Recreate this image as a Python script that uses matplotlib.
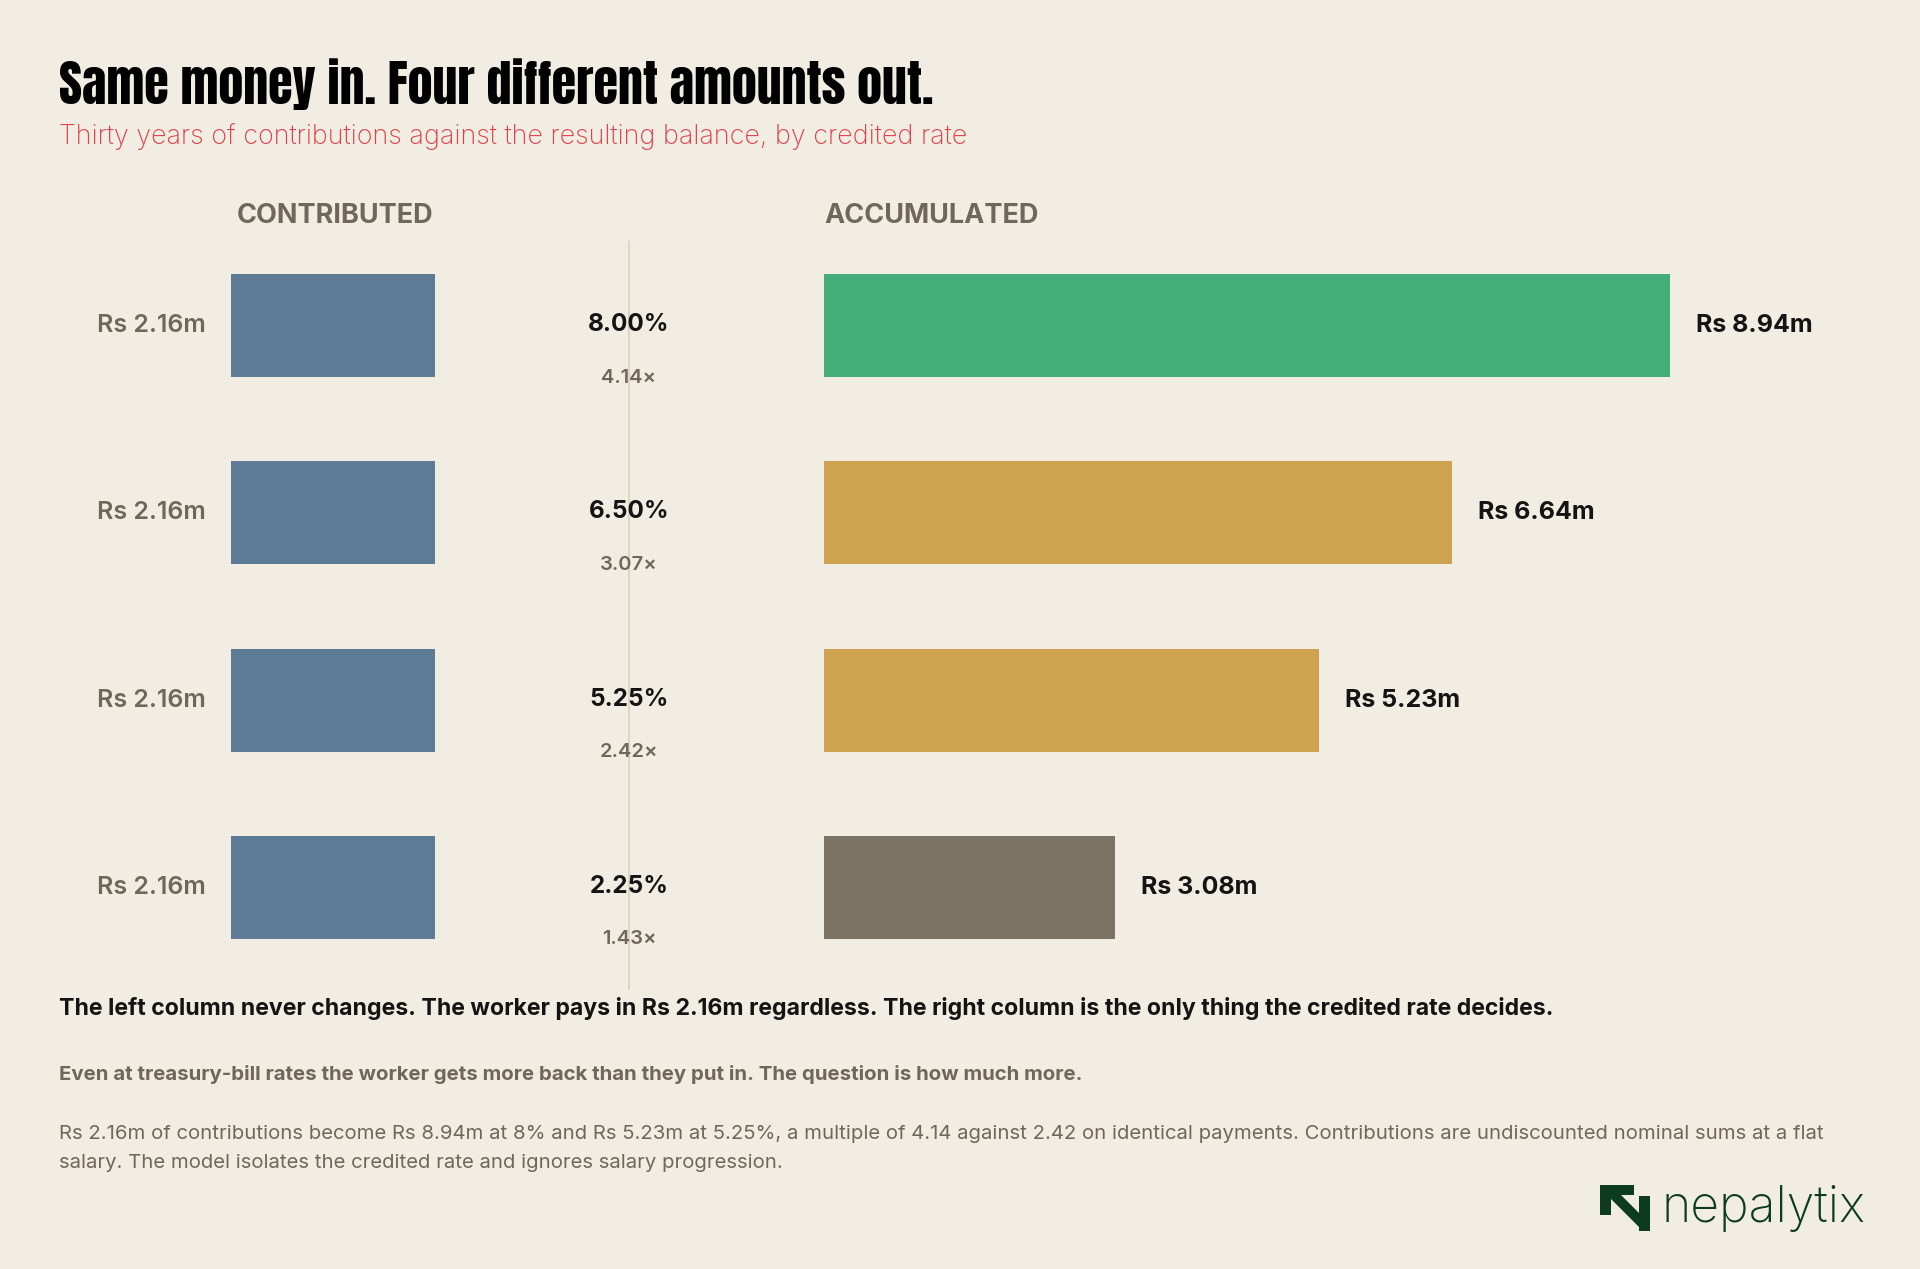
import matplotlib
matplotlib.use("Agg")
import matplotlib.pyplot as plt
from matplotlib.transforms import blended_transform_factory
from matplotlib.lines import Line2D
from matplotlib.patches import Polygon

# data
rates = ["8.00%", "6.50%", "5.25%", "2.25%"]
contributed = [2.16, 2.16, 2.16, 2.16]
accumulated = [8.94, 6.64, 5.23, 3.08]
multiples = ["4.14×", "3.07×", "2.42×", "1.43×"]
acc_colors = ["#43ae78", "#cda34f", "#cda34f", "#7b7264"]

BG = "#f2ede2"
GREY = "#6f675a"
INK = "#141414"
BLUE = "#5e7b96"

W, H = 1920, 1269
fig = plt.figure(figsize=(W / 100, H / 100), dpi=100, facecolor=BG)
plt.rcParams['font.family'] = ['Inter', 'DejaVu Sans']

def fx(px):
    return px / W

def fy(py):
    return 1 - py / H

scale = 94.6          # pixels per Rs million
top, bottom = 232, 981
ypos = list(range(len(rates)))

# left axes: contributions
axl = fig.add_axes([fx(231), fy(bottom), 3 * scale / W, (bottom - top) / H])
# right axes: accumulated balance
axr = fig.add_axes([fx(824), fy(bottom), 11 * scale / W, (bottom - top) / H])
for ax, xmax in ((axl, 3), (axr, 11)):
    ax.set_xlim(0, xmax)
    ax.set_ylim(3.5, -0.5)
    ax.axis("off")
    ax.patch.set_alpha(0)

axl.barh(ypos, contributed, height=0.55, color=BLUE)
axr.barh(ypos, accumulated, height=0.55, color=acc_colors)

for y, v in zip(ypos, contributed):
    axl.annotate(f"Rs {v:.2f}m", (0, y), xytext=(-25, 0), textcoords="offset pixels",
                 ha="right", va="center", fontsize=18, color=GREY, fontweight="semibold")
for y, v in zip(ypos, accumulated):
    axr.annotate(f"Rs {v:.2f}m", (v, y), xytext=(26, 0), textcoords="offset pixels",
                 ha="left", va="center", fontsize=18, color=INK, fontweight="bold")

# rate labels in the middle column
tr = blended_transform_factory(fig.transFigure, axl.transData)
for y, r, m in zip(ypos, rates, multiples):
    axl.annotate(r, (fx(629), y), xycoords=tr, xytext=(0, 1), textcoords="offset pixels",
                 ha="center", va="center", fontsize=17.5, color=INK, fontweight="bold")
    axl.annotate(m, (fx(629), y), xycoords=tr, xytext=(0, -52), textcoords="offset pixels",
                 ha="center", va="center", fontsize=14.5, color=GREY, fontweight="semibold")

fig.add_artist(Line2D([fx(629), fx(629)], [fy(242), fy(989)], color="#dcd6c3", lw=1.5, zorder=0))

# headers
fig.text(fx(335), fy(216), "CONTRIBUTED", ha="center", va="center", fontsize=19.5,
         color=GREY, fontweight="bold")
fig.text(fx(824), fy(216), "ACCUMULATED", ha="left", va="center", fontsize=19.5,
         color=GREY, fontweight="bold")

# title block
fig.text(fx(59), fy(104), "Same money in. Four different amounts out.", ha="left",
         va="baseline", fontsize=36, color="#000000",
         family=["Anton", "DejaVu Sans"])
fig.text(fx(59), fy(137), "Thirty years of contributions against the resulting balance, by credited rate",
         ha="left", va="center", fontsize=19.4, color="#e0404a", fontweight="light")

# footer text
fig.text(fx(59), fy(1009), "The left column never changes. The worker pays in Rs 2.16m regardless. "
         "The right column is the only thing the credited rate decides.",
         ha="left", va="center", fontsize=16.6, color=INK, fontweight="bold")
fig.text(fx(59), fy(1075), "Even at treasury-bill rates the worker gets more back than they put in. "
         "The question is how much more.",
         ha="left", va="center", fontsize=14.7, color=GREY, fontweight="bold")
fig.text(fx(59), fy(1134), "Rs 2.16m of contributions become Rs 8.94m at 8% and Rs 5.23m at 5.25%, "
         "a multiple of 4.14 against 2.42 on identical payments. Contributions are undiscounted "
         "nominal sums at a flat", ha="left", va="center", fontsize=14.6, color=GREY)
fig.text(fx(59), fy(1163), "salary. The model isolates the credited rate and ignores salary progression.",
         ha="left", va="center", fontsize=14.6, color=GREY)

# logo
LOGO = "#0d3b20"
def poly(pts):
    fig.add_artist(Polygon([(fx(x), fy(y)) for x, y in pts], closed=True,
                           facecolor=LOGO, edgecolor="none"))
poly([(1600, 1185), (1634, 1185), (1634, 1195), (1611, 1195), (1611, 1215), (1600, 1215)])
poly([(1604, 1192), (1611, 1185), (1650, 1224), (1650, 1231), (1643, 1231)])
poly([(1639, 1196), (1650, 1196), (1650, 1231), (1639, 1231)])
fig.text(fx(1661), fy(1208), "nepalytix", ha="left", va="center", fontsize=36, color=LOGO,
         fontweight="light")

fig.savefig("out.png", dpi=100, facecolor=BG)
